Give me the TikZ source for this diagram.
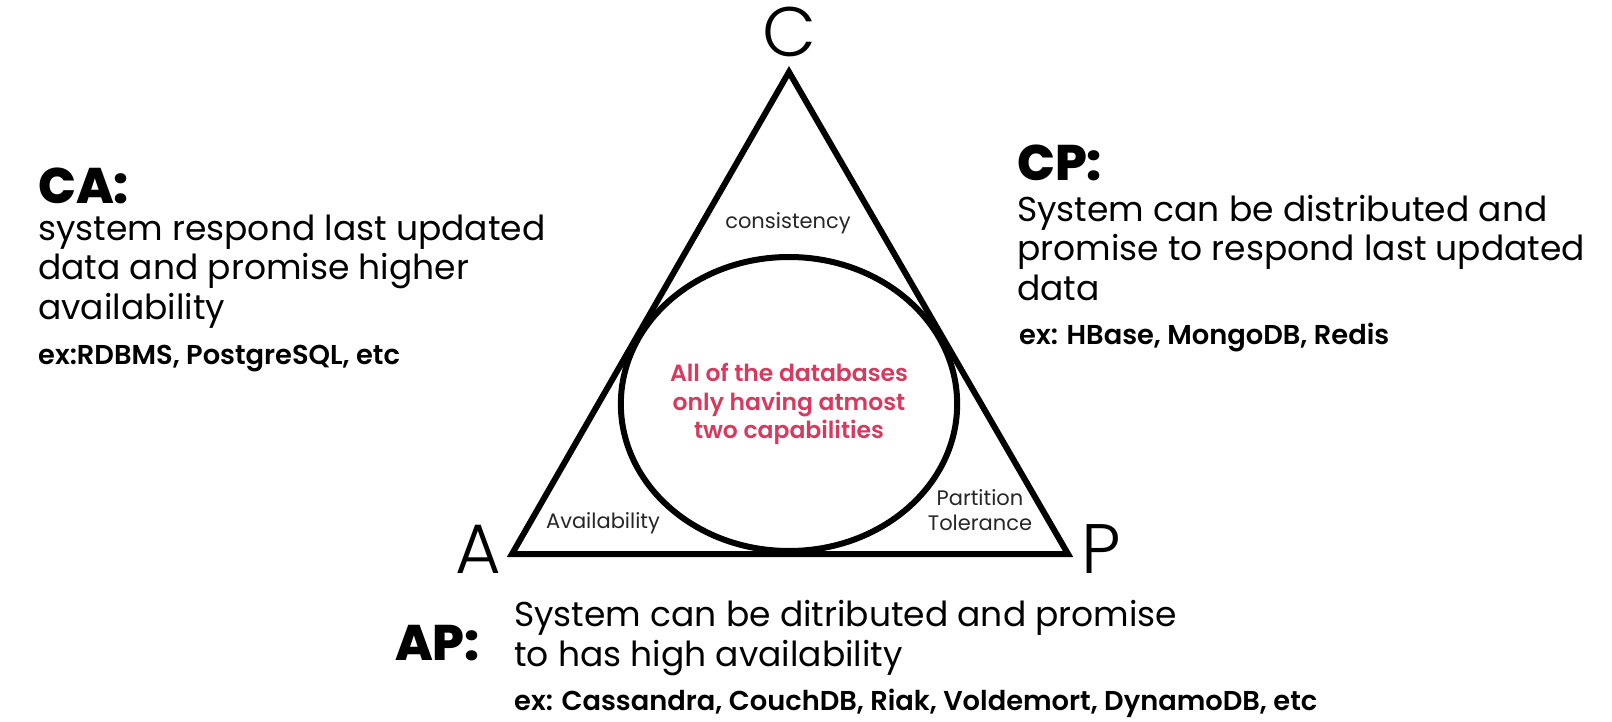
\documentclass[tikz,border=0pt]{standalone}
\usepackage{fontspec}
\setmainfont{Poppins}
\newfontfamily\popheavy{Poppins ExtraBold}
\newfontfamily\popsemi{Poppins SemiBold}
\newfontfamily\poplight{Poppins Light}
\usetikzlibrary{shapes.geometric,positioning}
\definecolor{capred}{RGB}{214,58,94}

\begin{document}
\begin{tikzpicture}[x=1pt, y=-1pt,
    vertex/.style={font=\poplight\fontsize{70}{70}\selectfont, inner sep=0pt, anchor=base},
    corner/.style={font=\fontsize{21}{24.5}\selectfont, text=black!85, align=center, inner sep=0pt, anchor=base},
    head/.style={font=\popheavy\fontsize{50}{50}\selectfont, inner sep=0pt, anchor=base west},
    body/.style={font=\fontsize{34.5}{39.5}\selectfont, align=left, inner sep=0pt, anchor=base west},
    example/.style={font=\popsemi\fontsize{27.3}{27.3}\selectfont, inner sep=0pt, anchor=base west}]
  \useasboundingbox (0,0) rectangle (1612,722);
  % CAP triangle and the circle
  \coordinate (a) at (512,554);
  \coordinate (p) at (1068,554);
  \coordinate (c) at (789,72);
  \draw[line width=6pt] (a) -- (p) -- (c) -- cycle;
  \node[ellipse, draw, line width=6pt, minimum width=317, minimum height=294,
        inner sep=0pt, align=center, text=capred,
        font=\popsemi\fontsize{23.5}{28.5}\selectfont] (core) at (789,404)
       {All of the databases\\ only having atmost\\ two capabilities};
  \node[vertex] (C) at (789,57) {C};
  \node[vertex] (A) at (478,573) {A};
  \node[vertex] (P) at (1101,573) {P};
  \node[corner] (cons) at (788,229) {consistency};
  \node[corner] (avail) at (603,528) {Availability};
  \node[corner] (part) at (980,530) {Partition\\ Tolerance};
  % CA
  \node[head] (CA) at (38,204) {CA:};
  \node[body] (CAtxt) at (38,319) {system respond last updated\\ data and promise higher\\ availability};
  \node[example] (CAex) at (38,364) {ex:RDBMS, PostgreSQL, etc};
  % CP
  \node[head] (CP) at (1017,181) {CP:};
  \node[body] (CPtxt) at (1017,300) {System can be distributed and\\ promise to respond last updated\\ data};
  \node[example] (CPex) at (1019,344) {ex: HBase, MongoDB, Redis};
  % AP
  \node[head] (AP) at (395,660) {AP:};
  \node[body] (APtxt) at (514,666) {System can be ditributed and promise\\ to has high availability};
  \node[example] (APex) at (514,710) {ex: Cassandra, CouchDB, Riak, Voldemort, DynamoDB, etc};
\end{tikzpicture}
\end{document}
